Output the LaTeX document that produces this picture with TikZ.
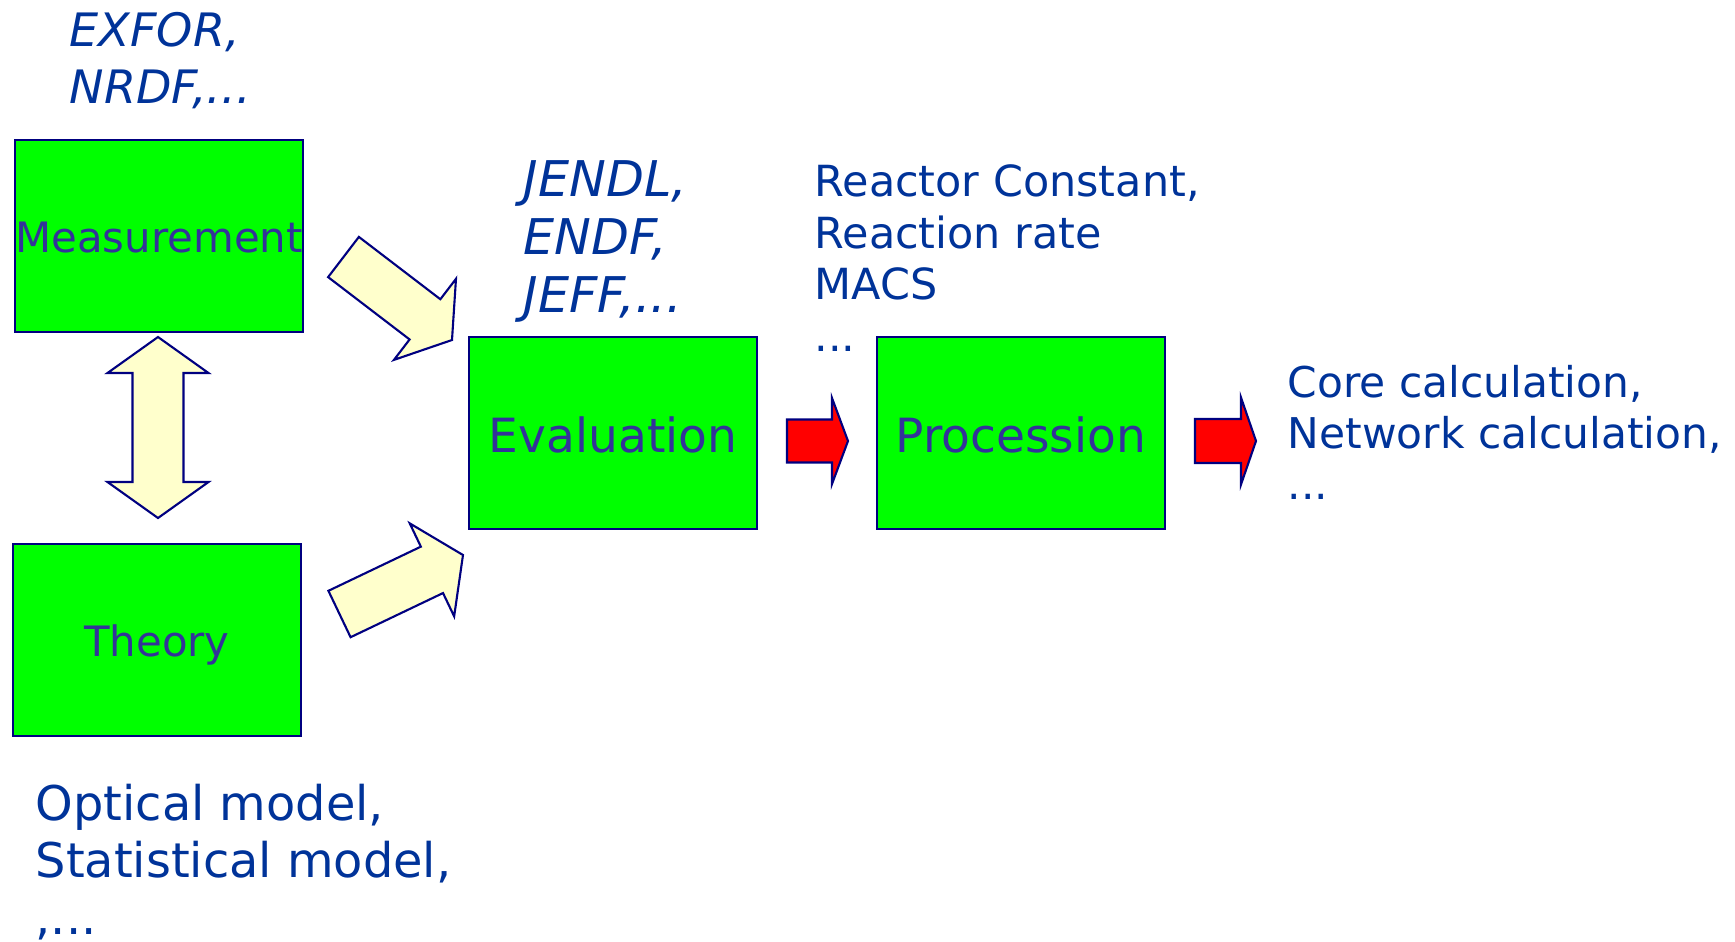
\documentclass[tikz,border=0pt]{standalone}
\usepackage{fontspec}
\setmainfont{DejaVu Sans}
\usetikzlibrary{calc}

\definecolor{boxgreen}{HTML}{00FF00}
\definecolor{boxline}{HTML}{000080}
\definecolor{boxtext}{HTML}{333399}
\definecolor{notetext}{HTML}{003399}
\definecolor{paleyellow}{HTML}{FFFFCC}

% block arrow: tail, tip, shaft half width, head half width, head length, style
\newcommand{\fatarrow}[6]{%
  \path ($(#2)!#5!(#1)$) coordinate (fa-b);
  \draw[#6] ($(#1)!#3!90:(#2)$) -- ($(fa-b)!#3!90:(#2)$) -- ($(fa-b)!#4!90:(#2)$)
    -- (#2) -- ($(fa-b)!#4!-90:(#2)$) -- ($(fa-b)!#3!-90:(#2)$)
    -- ($(#1)!#3!-90:(#2)$) -- cycle;
}
% two-headed block arrow: tip, tip, shaft half width, head half width, head length, style
\newcommand{\dblarrow}[6]{%
  \path ($(#1)!#5!(#2)$) coordinate (da-a) ($(#2)!#5!(#1)$) coordinate (da-b);
  \draw[#6] (#1) -- ($(da-a)!#4!90:(#2)$) -- ($(da-a)!#3!90:(#2)$)
    -- ($(da-b)!#3!90:(#2)$) -- ($(da-b)!#4!90:(#2)$) -- (#2)
    -- ($(da-b)!#4!-90:(#2)$) -- ($(da-b)!#3!-90:(#2)$)
    -- ($(da-a)!#3!-90:(#2)$) -- ($(da-a)!#4!-90:(#2)$) -- cycle;
}

\begin{document}
\begin{tikzpicture}[
  x=0.01cm, y=-0.01cm,
  stage/.style = {rectangle, draw=boxline, line width=0.6pt, fill=boxgreen,
                  text=boxtext, inner sep=0pt, text height=#1, text depth=0pt,
                  minimum width=2.88cm, minimum height=1.92cm},
  stage/.default = 0.33cm,
  note/.style  = {text=notetext, align=left, inner sep=0pt, anchor=base west},
  pale/.style  = {draw=boxline, line width=0.6pt, fill=paleyellow, line join=miter},
  hot/.style   = {draw=boxline, line width=0.6pt, fill=red, line join=miter},
]
\useasboundingbox (0,0) rectangle (1735,941);

% ── Stages ────────────────────────────────────────────────────────────────────
\node[stage, font=\fontsize{11.9}{14}\selectfont] (meas) at (159,236) {Measurement};
\node[stage, font=\fontsize{11.9}{14}\selectfont] (theo) at (157,640) {Theory};
\node[stage=0.38cm, font=\fontsize{13.4}{16}\selectfont] (eval) at (613,433) {Evaluation};
\node[stage=0.38cm, font=\fontsize{13.4}{16}\selectfont] (proc) at (1021,433) {Procession};

% ── Notes (placed at the baseline of their last line) ────────────────────────
\node[note, font=\fontsize{13.1}{16.2}\selectfont\itshape] (libexp) at (69,103)
  {EXFOR,\\NRDF,...};
\node[note, font=\fontsize{14}{16.4}\selectfont\itshape] (libeval) at (523,312)
  {JENDL,\\ENDF,\\JEFF,...};
\node[note, font=\fontsize{12.2}{14.6}\selectfont] (libproc) at (814,351)
  {Reactor Constant,\\Reaction rate\\MACS\\...};
\node[note, font=\fontsize{12.05}{14.5}\selectfont] (use) at (1287,499)
  {Core calculation,\\Network calculation,\\...};
\node[note, font=\fontsize{13.6}{16.2}\selectfont] (models) at (35,934)
  {Optical model,\\Statistical model,\\,...};

% ── Arrow ends ────────────────────────────────────────────────────────────────
\coordinate (m-tail) at (343.5,257);
\coordinate (m-tip)  at (452,340);
\coordinate (t-tail) at (339.5,614);
\coordinate (t-tip)  at (463,555);
\coordinate (mt-top) at (158,337);
\coordinate (mt-bot) at (158,518);
\coordinate (e-tail) at (787,441);
\coordinate (e-tip)  at (848,441);
\coordinate (p-tail) at (1195,441);
\coordinate (p-tip)  at (1256,441);

% ── Arrows ────────────────────────────────────────────────────────────────────
\fatarrow{m-tail}{m-tip}{0.253cm}{0.51cm}{0.34cm}{pale}
\fatarrow{t-tail}{t-tip}{0.257cm}{0.515cm}{0.344cm}{pale}
\dblarrow{mt-top}{mt-bot}{0.255cm}{0.505cm}{0.36cm}{pale}
\fatarrow{e-tail}{e-tip}{0.215cm}{0.43cm}{0.16cm}{hot}
\fatarrow{p-tail}{p-tip}{0.22cm}{0.435cm}{0.15cm}{hot}

\end{tikzpicture}
\end{document}
